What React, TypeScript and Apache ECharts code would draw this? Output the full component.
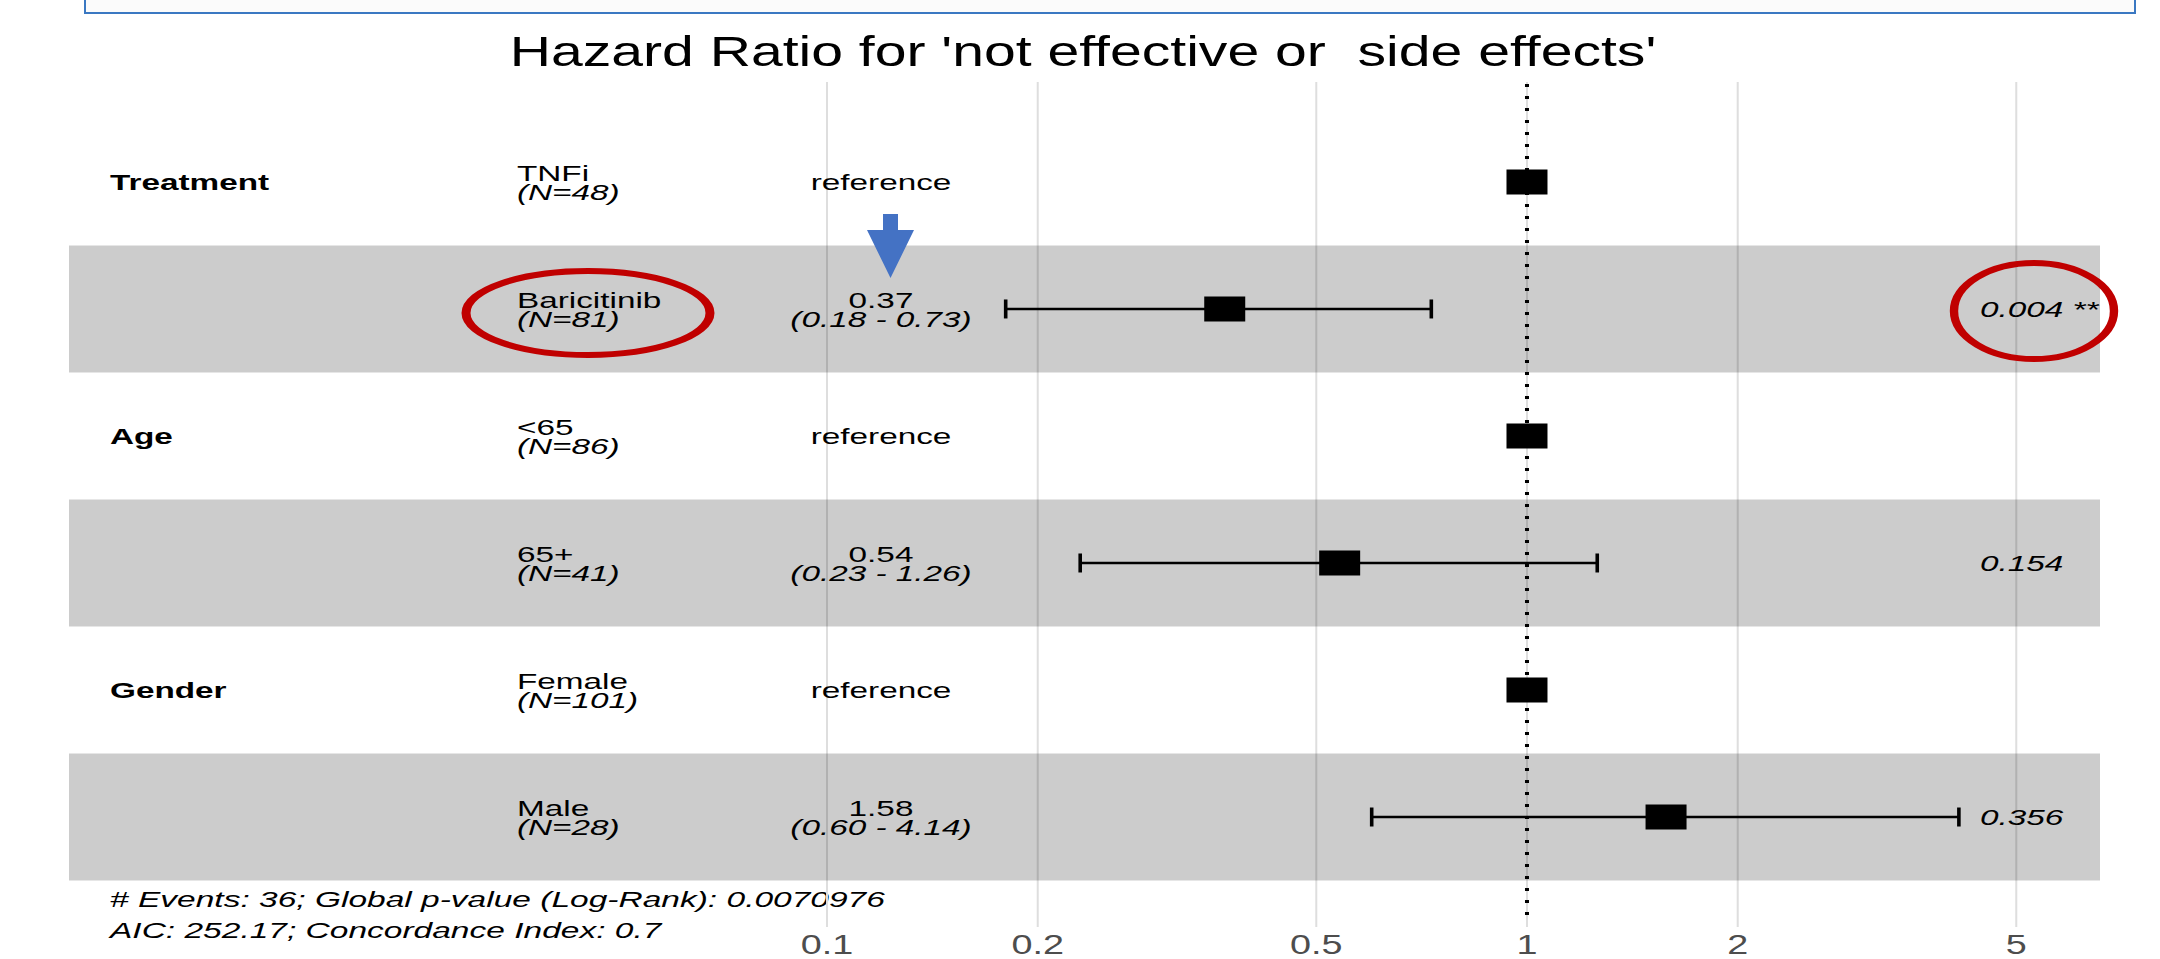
import React, { useEffect, useRef } from "react";
import * as echarts from "echarts";

// ---- data -------------------------------------------------------------
const variables = ["Treatment", "", "Age", "", "Gender", ""];
const levels = ["TNFi", "Baricitinib", "<65", "65+", "Female", "Male"];
const counts = [48, 81, 86, 41, 101, 28];
const hazardRatios = [1, 0.37, 1, 0.54, 1, 1.58];
const ciLower = [null, 0.18, null, 0.23, null, 0.6];
const ciUpper = [null, 0.73, null, 1.26, null, 4.14];
const pValues = ["", "0.004", "", "0.154", "", "0.356"];
const stars = ["", "**", "", "", "", ""];
const tickValues = [0.1, 0.2, 0.5, 1, 2, 5];
const titleText = "Hazard Ratio for 'not effective or  side effects'";
const footnotes = [
  "# Events: 36; Global p-value (Log-Rank): 0.0070976",
  "AIC: 252.17; Concordance Index: 0.7",
];

// ---- layout / style ---------------------------------------------------
const W = 2160;
const H = 959;
const FONT = '"Liberation Sans", Arial, Helvetica, sans-serif';
const SX = 1.48; // the exported figure is stretched horizontally
const ROW_FONT = 22.5;
const COL_VAR = 110;
const COL_LEVEL = 517;
const COL_EST = 881;
const COL_P = 1980;

const isReference = (i: number) => ciLower[i] == null;

function txt(x: number, y: number, text: string, opts: any = {}) {
  return {
    type: "text",
    x,
    y,
    scaleX: opts.scaleX || SX,
    silent: true,
    z2: 10,
    style: {
      text,
      x: 0,
      y: 0,
      fill: opts.fill || "#000",
      fontSize: opts.fontSize || ROW_FONT,
      fontFamily: FONT,
      fontWeight: opts.fontWeight || "normal",
      fontStyle: opts.fontStyle || "normal",
      align: opts.align || "left",
      textAlign: opts.align || "left",
      verticalAlign: "middle",
      textVerticalAlign: "middle",
    },
  };
}

export default function App() {
  const ref = useRef<HTMLDivElement>(null);

  useEffect(() => {
    if (!ref.current) return;
    const chart = echarts.init(ref.current, null, { renderer: "svg", width: W, height: H });

    const rows = levels.map((_, i) => [1, i]);
    const bandRows = levels.map((_, i) => i).filter((i) => i % 2 === 1).map((i) => [1, i]);
    const ciRows = levels
      .map((_, i) => i)
      .filter((i) => !isReference(i))
      .map((i) => [hazardRatios[i], i, ciLower[i], ciUpper[i]]);
    const pointData = hazardRatios.map((v, i) => [v, i]);

    const option: any = {
      animation: false,
      backgroundColor: "#ffffff",
      grid: { left: 69, right: W - 2100, top: 82, bottom: H - 927 },
      xAxis: {
        type: "log",
        logBase: 10,
        min: 0.008263,
        max: 6.5856,
        show: false,
        splitLine: { show: false },
      },
      yAxis: {
        type: "value",
        inverse: true,
        min: -0.787,
        max: 5.866,
        show: false,
        splitLine: { show: false },
      },
      series: [
        // vertical grid lines + tick labels
        {
          type: "custom",
          silent: true,
          data: tickValues.map((v) => [v, 0]),
          encode: { x: 0, y: 1 },
          renderItem: (params: any, api: any) => {
            const v = api.value(0);
            const x = api.coord([v, 0])[0];
            const cs = params.coordSys;
            return {
              type: "group",
              children: [
                {
                  type: "line",
                  shape: { x1: x, y1: cs.y, x2: x, y2: cs.y + cs.height },
                  style: { stroke: "#dedede", lineWidth: 2 },
                },
                txt(x, cs.y + cs.height + 18, String(v), {
                  align: "center",
                  fontSize: 27,
                  scaleX: 1.4,
                  fill: "#4d4d4d",
                }),
              ],
            };
          },
        },
        // alternating row bands
        {
          type: "custom",
          silent: true,
          data: bandRows,
          encode: { x: 0, y: 1 },
          renderItem: (params: any, api: any) => {
            const r = api.value(1);
            const cs = params.coordSys;
            const y1 = api.coord([1, r - 0.5])[1];
            const y2 = api.coord([1, r + 0.5])[1];
            return {
              type: "rect",
              shape: { x: cs.x, y: Math.min(y1, y2), width: cs.width, height: Math.abs(y2 - y1) },
              style: { fill: "rgba(0,0,0,0.2)" },
            };
          },
        },
        // dotted reference line at HR = 1
        {
          type: "custom",
          silent: true,
          data: [[1, 0]],
          encode: { x: 0, y: 1 },
          renderItem: (params: any, api: any) => {
            const x = api.coord([1, 0])[0];
            const cs = params.coordSys;
            return {
              type: "line",
              shape: { x1: x, y1: cs.y + 2, x2: x, y2: cs.y + cs.height - 7 },
              style: { stroke: "#000", lineWidth: 4, lineDash: [3, 9] },
            };
          },
        },
        // confidence intervals
        {
          type: "custom",
          silent: true,
          data: ciRows,
          encode: { x: 0, y: 1 },
          renderItem: (params: any, api: any) => {
            const r = api.value(1);
            const y = api.coord([1, r])[1];
            const xl = api.coord([api.value(2), r])[0];
            const xh = api.coord([api.value(3), r])[0];
            const cap = 9.5;
            return {
              type: "group",
              children: [
                { type: "line", shape: { x1: xl, y1: y, x2: xh, y2: y }, style: { stroke: "#000", lineWidth: 2.6 } },
                { type: "line", shape: { x1: xl, y1: y - cap, x2: xl, y2: y + cap }, style: { stroke: "#000", lineWidth: 3.6 } },
                { type: "line", shape: { x1: xh, y1: y - cap, x2: xh, y2: y + cap }, style: { stroke: "#000", lineWidth: 3.6 } },
              ],
            };
          },
        },
        // hazard ratio points
        {
          type: "scatter",
          silent: true,
          symbol: "rect",
          symbolSize: [41, 25],
          itemStyle: { color: "#000", opacity: 1 },
          data: pointData,
        },
        // table text
        {
          type: "custom",
          silent: true,
          data: rows,
          encode: { x: 0, y: 1 },
          renderItem: (params: any, api: any) => {
            const i = api.value(1);
            const y = api.coord([1, i])[1];
            const children: any[] = [];
            if (variables[i]) children.push(txt(COL_VAR, y, variables[i], { fontWeight: "bold" }));
            children.push(txt(COL_LEVEL, y - 8.5, levels[i]));
            children.push(txt(COL_LEVEL, y + 10, `(N=${counts[i]})`, { fontStyle: "italic" }));
            if (isReference(i)) {
              children.push(txt(COL_EST, y, "reference", { align: "center" }));
            } else {
              children.push(txt(COL_EST, y - 8.5, hazardRatios[i].toFixed(2), { align: "center" }));
              children.push(
                txt(COL_EST, y + 10, `(${(ciLower[i] as number).toFixed(2)} - ${(ciUpper[i] as number).toFixed(2)})`, {
                  align: "center",
                  fontStyle: "italic",
                })
              );
            }
            if (pValues[i]) {
              const label = stars[i] ? `${pValues[i]} ${stars[i]}` : pValues[i];
              children.push(txt(COL_P, y, label, { fontStyle: "italic" }));
            }
            return { type: "group", children };
          },
        },
      ],
      graphic: [
        // slide header box, cut by the top edge
        {
          type: "rect",
          shape: { x: 85, y: -10, width: 2050, height: 23 },
          style: { fill: "#fbfbfb", stroke: "#3a78c2", lineWidth: 2 },
          silent: true,
        },
        {
          type: "text",
          x: 1083,
          y: 52,
          scaleX: 1.36,
          silent: true,
          style: {
            text: titleText,
            fill: "#000",
            fontSize: 42,
            fontFamily: FONT,
            align: "center",
            textAlign: "center",
            verticalAlign: "middle",
            textVerticalAlign: "middle",
          },
        },
        ...footnotes.map((t, k) => ({
          type: "text",
          x: 110,
          y: 899 + k * 31,
          scaleX: 1.47,
          silent: true,
          style: {
            text: t,
            fill: "#000",
            fontSize: 22.8,
            fontStyle: "italic",
            fontFamily: FONT,
            align: "left",
            textAlign: "left",
            verticalAlign: "middle",
            textVerticalAlign: "middle",
          },
        })),
        // highlight marks
        {
          type: "ellipse",
          x: 588,
          y: 313,
          scaleX: 1.5,
          z: 100,
          silent: true,
          shape: { cx: 0, cy: 0, rx: 122 / 1.5, ry: 42 },
          style: { fill: "none", stroke: "#c00000", lineWidth: 6 },
        },
        {
          type: "ellipse",
          x: 2034,
          y: 311,
          scaleX: 1.4,
          z: 100,
          silent: true,
          shape: { cx: 0, cy: 0, rx: 80 / 1.4, ry: 48 },
          style: { fill: "none", stroke: "#c00000", lineWidth: 6 },
        },
        {
          type: "polygon",
          z: 100,
          silent: true,
          shape: {
            points: [
              [883, 214],
              [898, 214],
              [898, 230],
              [914, 230],
              [890.5, 278],
              [867, 230],
              [883, 230],
            ],
          },
          style: { fill: "#4472c4" },
        },
      ],
    };

    chart.setOption(option);
    return () => chart.dispose();
  }, []);

  return (
    <div
      ref={ref}
      style={{ position: "absolute", left: 0, top: 0, width: W, height: H, background: "#fff" }}
    />
  );
}
